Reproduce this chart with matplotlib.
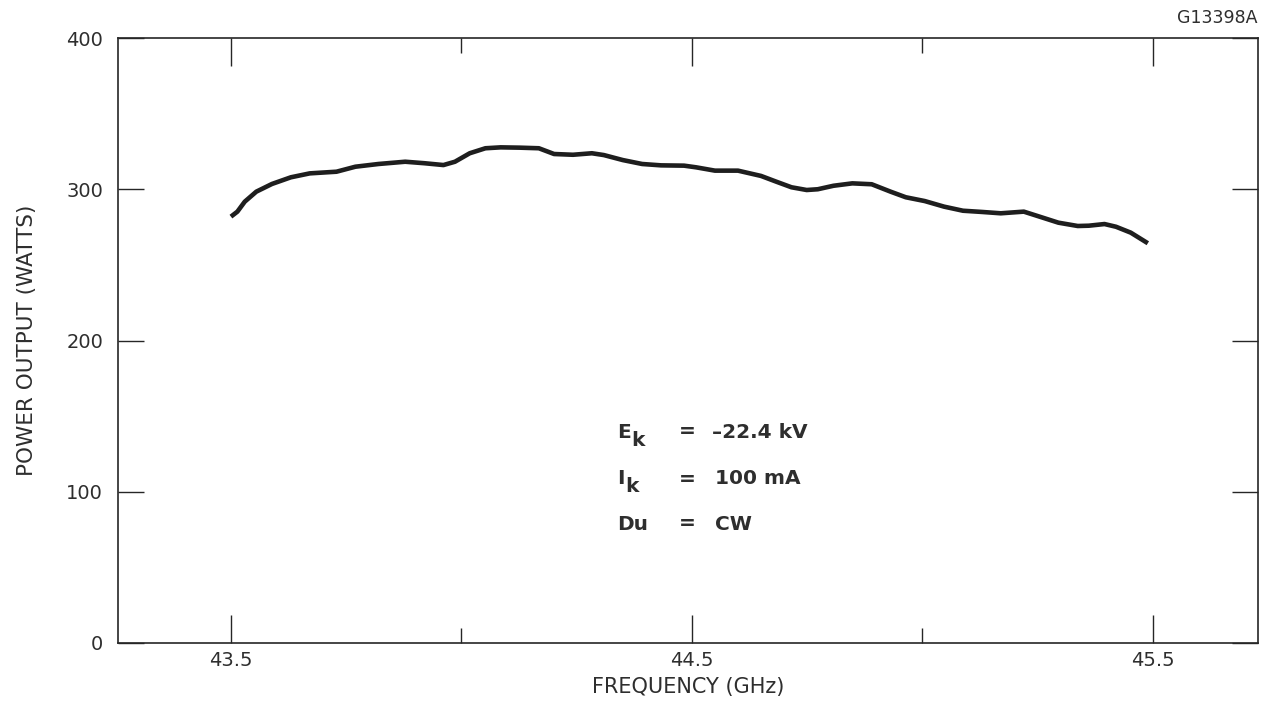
import matplotlib
matplotlib.use("Agg")
import matplotlib.pyplot as plt
from matplotlib.ticker import FixedLocator

plt.rcParams['font.family'] = ['DejaVu Sans']

freq_ghz = [43.500, 43.514, 43.530, 43.555, 43.589, 43.630, 43.671, 43.729, 43.770,
            43.820, 43.878, 43.920, 43.961, 43.986, 44.018, 44.052, 44.085, 44.126,
            44.168, 44.201, 44.242, 44.283, 44.309, 44.350, 44.392, 44.433, 44.483,
            44.509, 44.550, 44.600, 44.650, 44.683, 44.716, 44.749, 44.773, 44.807,
            44.848, 44.890, 44.931, 44.964, 45.005, 45.047, 45.088, 45.129, 45.170,
            45.220, 45.254, 45.295, 45.337, 45.361, 45.395, 45.420, 45.452, 45.489]
power_w = [281.9, 285.2, 291.8, 298.4, 303.5, 307.9, 310.5, 311.6, 314.9,
           316.7, 318.2, 317.2, 316.0, 318.2, 323.8, 327.1, 327.7, 327.5,
           327.1, 323.3, 322.8, 323.8, 322.6, 319.3, 316.7, 315.8, 315.6,
           314.5, 312.3, 312.3, 308.8, 305.0, 301.3, 299.5, 300.0, 302.3,
           303.9, 303.3, 298.4, 294.7, 292.2, 288.5, 285.8, 285.0, 284.1,
           285.2, 281.9, 277.9, 275.7, 275.9, 277.0, 275.2, 271.3, 264.3]

x_major = [43.5, 44.5, 45.5]
x_minor = [44.0, 45.0]
x_labels = ["43.5", "44.5", "45.5"]
y_ticks = [0, 100, 200, 300, 400]
y_labels = ["0", "100", "200", "300", "400"]

conditions = [("E", "k", "=", "\u201322.4 kV"),
              ("I", "k", "=", "100 mA"),
              ("Du", "", "=", "CW")]

fig = plt.figure(figsize=(12.65, 7.05), dpi=100)
ax = fig.add_axes([118/1265, 1-643/705, (1258-118)/1265, (643-38)/705])

ink = '#262626'
txt = '#2e2e2e'
ax.plot(freq_ghz, power_w, color='#1e1e1e', lw=3.3, solid_capstyle='butt',
        solid_joinstyle='round')

ax.set_xlim(43.255, 45.728)
ax.set_ylim(0, 400)

ax.xaxis.set_major_locator(FixedLocator(x_major))
ax.xaxis.set_minor_locator(FixedLocator(x_minor))
ax.set_xticklabels(x_labels)
ax.set_yticks(y_ticks)
ax.set_yticklabels(y_labels)

ax.tick_params(axis='x', which='major', direction='in', length=20, width=1.0,
               color=ink, top=True, bottom=True, labelsize=14, pad=6, labelcolor=txt)
ax.tick_params(axis='x', which='minor', direction='in', length=11, width=1.0,
               color=ink, top=True, bottom=True)
ax.tick_params(axis='y', which='major', direction='in', length=19, width=1.0,
               color=ink, left=True, right=True, labelsize=14, pad=10.8, labelcolor=txt)

for s in ax.spines.values():
    s.set_linewidth(1.2)
    s.set_color(ink)

ax.set_xlabel("FREQUENCY (GHz)", fontsize=15, color=txt, labelpad=5)
ax.set_ylabel("POWER OUTPUT (WATTS)", fontsize=15.5, color=txt, labelpad=21)

fig.text(1257/1265, 1-18/705, "G13398A", ha='right', va='center', fontsize=12.5, color=txt)

row_y = [432, 479, 524]
for (main, sub, eq, val), yp in zip(conditions, row_y):
    yf = 1 - yp/705
    fig.text(617/1265, yf, main, ha='left', va='center', fontsize=14.5,
             fontweight='bold', color=txt)
    if sub:
        off = 14 if main == "E" else 8
        fig.text((617 + off)/1265, yf - 8/705, sub, ha='left', va='center',
                 fontsize=14.5, fontweight='bold', color=txt)
    fig.text(687/1265, yf, eq, ha='center', va='center', fontsize=14.5,
             fontweight='bold', color=txt)
    fig.text((712 if val.startswith("\u2013") else 715)/1265, yf, val, ha='left',
             va='center', fontsize=14.5, fontweight='bold', color=txt)

fig.savefig("out.png", dpi=100, facecolor='white')
